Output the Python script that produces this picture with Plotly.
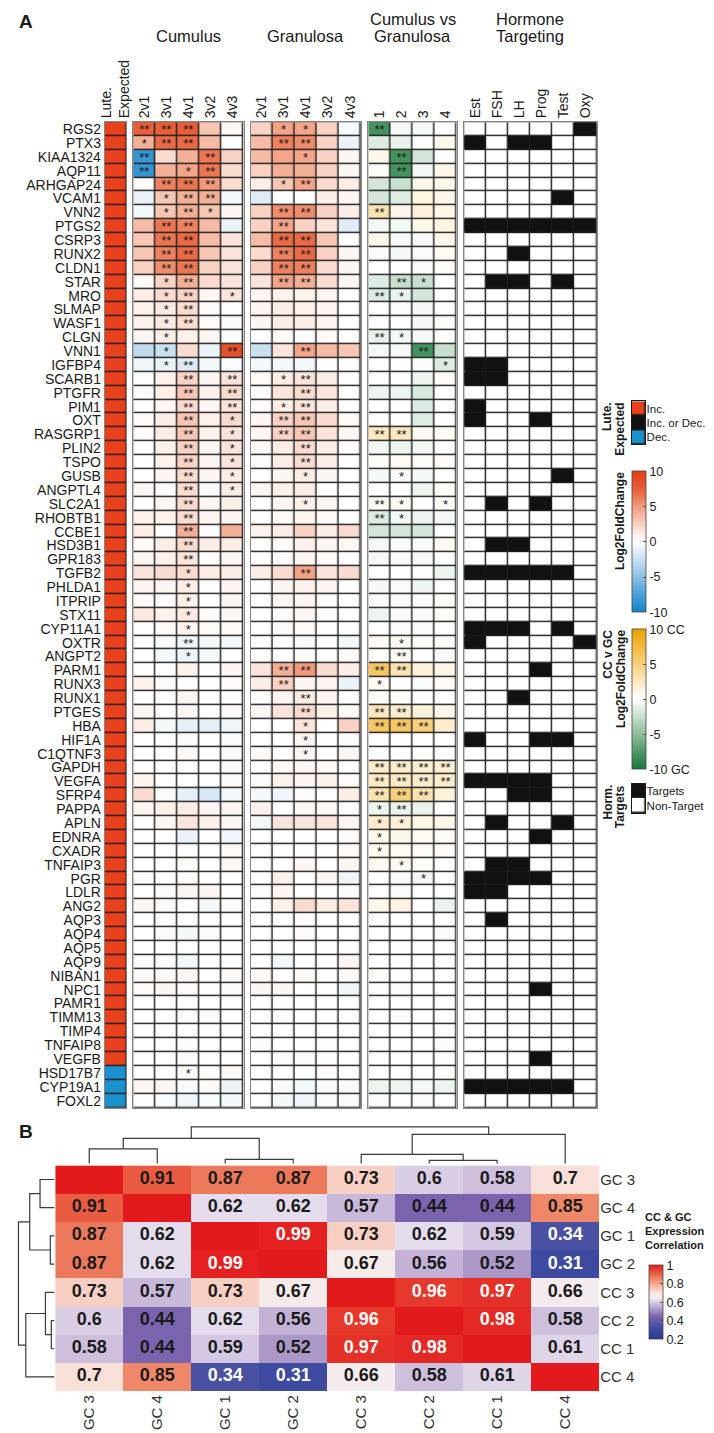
import plotly.graph_objects as go

W, H = 714, 1433
SANS = "Liberation Sans, Arial, sans-serif"
INK = "#1a1a1a"
GRID = "#1e1e1e"
EDGE = "#858585"

# ---------------- Panel A data ----------------
genes = ["RGS2", "PTX3", "KIAA1324", "AQP11", "ARHGAP24", "VCAM1", "VNN2", "PTGS2", "CSRP3", "RUNX2",
         "CLDN1", "STAR", "MRO", "SLMAP", "WASF1", "CLGN", "VNN1", "IGFBP4", "SCARB1", "PTGFR",
         "PIM1", "OXT", "RASGRP1", "PLIN2", "TSPO", "GUSB", "ANGPTL4", "SLC2A1", "RHOBTB1", "CCBE1",
         "HSD3B1", "GPR183", "TGFB2", "PHLDA1", "ITPRIP", "STX11", "CYP11A1", "OXTR", "ANGPT2", "PARM1",
         "RUNX3", "RUNX1", "PTGES", "HBA", "HIF1A", "C1QTNF3", "GAPDH", "VEGFA", "SFRP4", "PAPPA",
         "APLN", "EDNRA", "CXADR", "TNFAIP3", "PGR", "LDLR", "ANG2", "AQP3", "AQP4", "AQP5",
         "AQP9", "NIBAN1", "NPC1", "PAMR1", "TIMM13", "TIMP4", "TNFAIP8", "VEGFB", "HSD17B7", "CYP19A1",
         "FOXL2"]

lute_expected = ["Inc."] * 68 + ["Dec."] * 3
lute_levels = ["Inc.", "Inc. or Dec.", "Dec."]

cum_cols = ["2v1", "3v1", "4v1", "3v2", "4v3"]
gran_cols = ["2v1", "3v1", "4v1", "3v2", "4v3"]
cc_cols = ["1", "2", "3", "4"]
horm_cols = ["Est", "FSH", "LH", "Prog", "Test", "Oxy"]
horm_levels = ["Targets", "Non-Target"]

cum_lfc = [
    [7.5, 7.5, 7.5, 3, 0.5], [4, 7, 7, 3.5, 0], [-8.5, 2, 4, 6.5, 2.5], [-8.5, 4, 4.5, 6.5, 2],
    [0.3, 6, 6.5, 5, 2], [-1, 3, 4, 4, -0.5], [-0.5, 3, 4, 3, 0.5], [3.5, 6.5, 6, 3.5, -1],
    [3, 6.5, 7, 3.5, 1.5], [3, 6, 7, 3, 1.5], [2.5, 5.5, 6.5, 2.5, 1.5], [0.3, 2.5, 4, 2, 1.5],
    [1, 2, 2.5, 0.5, 1.5], [0.8, 1.2, 2, 0.3, 0], [0.8, 1.2, 2, 0.3, 0.3], [0.5, 1, 0.8, 0.5, -0.3],
    [-3, -2.5, 2, -1, 8.5], [-0.8, -1, -1.5, -0.5, -0.3], [0, 0.8, 2.5, 0.5, 1.5], [-0.3, 0.8, 3, 0.8, 2],
    [0, 0.5, 2, 0.5, 1.5], [0.2, 1, 3, 0.8, 2], [0.2, 1, 3, 0.8, 1.5], [0, 0.8, 2.5, 0.5, 1.5],
    [0, 0.8, 2.5, 0.5, 1.5], [0, 0.5, 2, 0.5, 1], [0.5, 0.2, 2, -0.3, 1], [0, 0.5, 2, 0.5, 0.8],
    [0.8, 0.8, 2, 0.5, 0.5], [1, 0, 4, 0.2, 4], [0.2, 1, 2, 1, 1], [0.5, 0.8, 1.5, 0, 0.5],
    [1.5, 2, 2, 1, 1], [0.5, 0.5, 1, 0, 0.5], [0.3, 0.3, 0.8, 0, 0.5], [1.2, 0.8, 1.2, 0.3, 0.5],
    [0, 0.3, 0.5, 0.3, 0.3], [0, -0.3, -0.8, -0.5, -0.5], [0, -0.5, -0.8, -0.5, 0], [0, 0, 0.8, 0, 0.5],
    [0.8, 0.3, 0, 0, 0.3], [0, 0, 0.5, 0, 0], [0.5, 0, 0.5, 0, 0.3], [1, -0.5, -1.2, -1.2, -0.8],
    [0, 0, -0.3, 0, -0.3], [0, 0, 0.3, 0, 0.3], [0, 0, 0, 0, 0.3], [0.5, 0, 0, 0, 0.3],
    [2, -0.3, -1.2, -1.8, -0.5], [0.5, 0.8, 1, 0.5, 0.5], [0, 0.5, 1.5, 0.8, 0.5], [0, 0, -1, 0, -0.8],
    [0, 0, 0, 0, 0.3], [0, 0, 0.3, 0, 0.5], [0.3, 0, 0.3, 0, 0], [0, 0.3, 0.5, 0.5, 0],
    [0.5, 0.3, 0, -0.5, 0.3], [0, -0.2, 0, 0, 0], [0, -0.3, -0.5, -0.3, 0], [0, 0, 0, 0, 0],
    [-0.3, -0.3, -0.5, 0, 0], [0.3, 0.3, 0.5, 0, 0.3], [0.3, 0.5, 0.3, 0, 0.3], [0, 0, 0, 0, 0],
    [0, 0, 0.2, 0.3, 0], [0, 0, 0, 0, 0], [0, 0, -0.3, 0, 0], [0, 0, -0.3, 0, 0],
    [0, 0, 0.2, 0.2, 0.3], [0.5, 0.5, -0.3, 0.3, -1], [0, -0.3, -0.8, -0.3, -0.5],
]
cum_sig = (["22200", "12200", "20020", "20120", "02220", "01220", "01210", "02200", "02200", "02200",
            "02200", "01200", "01201", "01200", "01200", "01000", "01002", "01200", "00202", "00202",
            "00202", "00201", "00201", "00201", "00201", "00201", "00201", "00200", "00200", "00200",
            "00200", "00200", "00100", "00100", "00100", "00100", "00100", "00200", "00100"]
           + ["00000"] * 29 + ["00100", "00000", "00000"])

gran_lfc = [
    [2.5, 4.5, 4.5, 2.5, -0.5], [3.5, 6, 5.5, 2.5, -1], [3.5, 4.5, 4.5, 2.5, 0.5], [2.5, 4, 4, 2.5, 0.5],
    [1, 3, 4.5, 2, 1], [-1.5, 0, 0, 1, 0.5], [2.5, 5.5, 5.5, 2.5, 1], [2.5, 4.5, 2.5, 1.5, -1.5],
    [3.5, 7, 7, 3, 0], [2, 6, 7, 2.5, 0.5], [2.5, 6, 6, 2, 0.5], [1.5, 4.5, 4, 2, 0.5],
    [0.5, 0.8, 0.8, 0.5, 0], [0.5, 1, 0.8, 0.5, 0], [0.5, 1, 1, 0.5, 0], [0, 0.3, -0.3, 0.3, 0],
    [-2.5, 1.5, 4.5, 3.5, 3], [-0.5, -0.5, -0.5, 0, 0], [0.3, 1, 1.5, 1, 0], [0.3, 1.5, 2, 1.5, 0],
    [0.3, 1, 1.5, 1, 0], [0.5, 2.5, 3, 2, 0.3], [0.5, 2.5, 3, 1.5, 0.5], [0.3, 1, 2, 1, 0],
    [0.3, 1, 2, 1, 0], [0, 0.5, 1, 0.5, 0], [0.5, 0.8, 1, 0, 0], [0, 0.5, 0.8, 0.5, 0],
    [0, 0.3, 0.5, 0.3, 0], [0.8, 1, 2.5, 1, 2], [0, 0.3, 0.8, 0.5, 0.5], [0, 0.3, 0.5, 0.3, 0],
    [1, 2, 4.5, 1.5, 2], [0, 0.5, 0.8, 0.5, 0], [0, 0.5, 0.5, 0.3, 0], [0, 0.3, 0.5, 0.3, 0],
    [0, 0.3, 0.3, 0, 0], [0, 0, -0.3, 0, -0.5], [0, 0, 0.3, 0, 0.3], [1.5, 4, 5, 2, 1],
    [1, 2.5, 0.5, 0.5, -1], [0, 0.5, 1, 0.5, 0], [0.5, 1.5, 2, 0.8, 0.3], [0, 0, 1.5, 0, 2.5],
    [0, 0, 0.5, 0, -0.3], [0.3, 0, 0.5, 0, 0.5], [0, 0.3, 0.5, 0.3, 0], [0.3, 0.8, 0.5, 0.8, 0.3],
    [-0.5, -0.8, 0.3, 0, 1], [0.8, 0, 0.5, 0.5, 0], [-0.5, 1.5, 1.5, 1.5, 0.5], [0, 0, 0, 0, 0.3],
    [0, 0, 0, 0, 0.3], [0, 0, 0.5, 0, 0.5], [0, 0.8, 0, 0.5, -0.8], [0.3, 0.5, 0, 0, -0.3],
    [0, 0.8, 2, 1, 1.5], [0, 0, 0.2, 0, 0], [0, 0, 0.3, 0, 0], [0, 0, 0, 0, 0],
    [0, -0.5, 0, 0, 0.5], [0.3, 0, 0.3, 0, 0.3], [0.5, 0.5, 0, 0, -0.8], [0, 0, 0, 0, 0],
    [0, 0.2, 0, 0, 0], [0, 0, 0, 0, 0], [0.2, 0, 0, -0.2, 0], [0, -0.3, -0.3, 0, 0],
    [0, 0, 0, 0.2, 0], [0, -0.3, -0.5, -0.3, -0.3], [0, -0.5, -0.8, -0.3, -0.3],
]
gran_sig = (["01100", "02200", "00100", "00000", "01200", "00000", "02200", "02000", "02200", "02200",
             "02200", "02200", "00000", "00000", "00000", "00000", "00200", "00000", "01200", "00200",
             "01200", "02200", "02200", "00200", "00200", "00100", "00000", "00100", "00000", "00000",
             "00000", "00000", "00200", "00000", "00000", "00000", "00000", "00000", "00000", "02200",
             "02000", "00200", "00200", "00100", "00100", "00100"]
            + ["00000"] * 25)

cc_lfc = [
    [-8, -0.5, -0.5, 0], [-1.5, -1, 0, 0.8], [0.8, -8, -2, 0], [0.3, -8, -0.5, 1],
    [-2, -2.5, 0.8, 0.8], [-2, -1.5, 1.2, 0.8], [3, 0.8, 1.5, 1], [-0.5, -0.5, 1, 1.2],
    [0.8, -0.3, -0.3, 0.8], [-0.3, -0.5, -0.3, 0.5], [0, 0, -0.3, 0.3], [-1.5, -2.5, -2.5, 0],
    [-1.5, -1, -2, 0], [0, -0.3, -0.5, 0], [0, 0, -0.5, 0.3], [-1, -0.5, -0.5, 0],
    [-0.5, -0.5, -8, -2.5], [0, 0, -0.3, -1.5], [0, 0, -0.8, 0.3], [-0.8, -0.8, -1.8, 0],
    [0, 0, -1.5, 0], [0, 0, -1.5, 0], [2.5, 2.5, 0.5, 0.5], [-0.5, -0.8, -0.5, 0],
    [0.3, 0.5, 0.3, 0.3], [-0.5, -0.3, -0.5, 0], [0, 0, -0.8, 0.3], [0.3, 0.5, 0, 0.2],
    [-1.5, -0.5, -0.8, -0.5], [-2, -2, -2, 0], [-0.5, -0.3, -0.3, 0.5], [-0.5, -0.3, -0.5, 0],
    [0, 0, 0.2, -0.8], [-0.5, -0.3, -0.8, 0], [-0.3, -0.3, -0.3, 0.3], [-0.8, -0.3, -0.3, 0.3],
    [0, -0.3, -0.3, 0], [0.5, 0.5, 0.2, 0.2], [0, 0.3, 0, -0.3], [6, 3, 1.5, 1],
    [0.5, 0, -0.3, 0.3], [0.3, 0.3, 0, 0], [2.5, 2, 1.5, 0.8], [6, 6, 5, 2],
    [0, 0, 0, 0], [0, 0, 0, 0], [2, 2, 1.8, 1.8], [2.2, 2.2, 2, 2],
    [3, 5, 3, 1.5], [-0.8, -1, -1, 0], [2, 1.5, 1, 1], [0.8, 0.8, 0.5, 0.3],
    [0.5, 0.5, 0.3, 0.3], [0.5, 0.5, 0.3, 0], [0, -0.3, -0.5, 0], [0, -0.3, 0, 0],
    [0.8, 1.2, 0, -1], [0.2, 0, 0, 0], [0, 0, 0, -0.3], [0, 0, 0, 0],
    [0, 0, 0, -0.2], [0.2, 0, 0, 0], [0, -0.3, 0, 0], [0, 0, 0, 0],
    [0, -0.2, 0, 0], [0, 0, 0, 0], [0, 0, 0, -0.2], [0, 0, 0, 0],
    [0, 0, 0, 0.2], [-0.8, -0.8, -0.5, -0.8], [-0.3, 0, -0.3, 0],
]
cc_sig = (["2000", "0000", "0200", "0200", "0000", "0000", "2000", "0000", "0000", "0000",
           "0000", "0210", "2100", "0000", "0000", "2100", "0020", "0001", "0000", "0000",
           "0000", "0000", "2200", "0000", "0000", "0100", "0000", "2101", "2100", "0000",
           "0000", "0000", "0000", "0000", "0000", "0000", "0000", "0100", "0200", "2200",
           "1000", "0000", "2200", "2220", "0000", "0000", "2222", "2222", "2220", "1200",
           "1100", "1000", "1000", "0100", "0010"]
          + ["0000"] * 16)

horm_target = ["000001", "101100", "000000", "000000", "000000", "000010", "000000", "111111", "000000", "001000",
               "000000", "011010", "000000", "000000", "000000", "000000", "000000", "110000", "110000", "000000",
               "100000", "100100", "000000", "000000", "000000", "000010", "000000", "010100", "000000", "000000",
               "011000", "000000", "111110", "000000", "000000", "000000", "111010", "100001", "000000", "000100",
               "000000", "001000", "000000", "000000", "100110", "000000", "000000", "111100", "001100", "000000",
               "010010", "000100", "000000", "011000", "111100", "110000", "000000", "010000", "000000", "000000",
               "000000", "000000", "000100", "000000", "000000", "000000", "000000", "000100", "000000", "111110",
               "000000"]

# ---------------- Panel B data ----------------
b_labels = ["GC 3", "GC 4", "GC 1", "GC 2", "CC 3", "CC 2", "CC 1", "CC 4"]
b_corr = [
    [1.00, 0.91, 0.87, 0.87, 0.73, 0.60, 0.58, 0.70],
    [0.91, 1.00, 0.62, 0.62, 0.57, 0.44, 0.44, 0.85],
    [0.87, 0.62, 1.00, 0.99, 0.73, 0.62, 0.59, 0.34],
    [0.87, 0.62, 0.99, 1.00, 0.67, 0.56, 0.52, 0.31],
    [0.73, 0.57, 0.73, 0.67, 1.00, 0.96, 0.97, 0.66],
    [0.60, 0.44, 0.62, 0.56, 0.96, 1.00, 0.98, 0.58],
    [0.58, 0.44, 0.59, 0.52, 0.97, 0.98, 1.00, 0.61],
    [0.70, 0.85, 0.34, 0.31, 0.66, 0.58, 0.61, 1.00],
]
# dendrogram merges (indices >= 8 refer to earlier merges), heights
dend_left = [0, 2, 5, 4, 8, 11, 12]
dend_right = [1, 3, 6, 10, 9, 7, 13]
dend_height = [14.5, 4.0, 3.0, 9.0, 25.0, 29.0, 36.5]

# ---------------- colour scales ----------------
LFC_SCALE = [[0.0, "#1385C8"], [0.125, "#4C9FD6"], [0.25, "#8EC0E4"], [0.375, "#C9E0F1"], [0.5, "#FFFFFF"],
             [0.625, "#F9D2C3"], [0.75, "#F1997A"], [0.875, "#E75E38"], [1.0, "#E23D18"]]
CC_SCALE = [[0.0, "#17793D"], [0.125, "#4F9A68"], [0.25, "#8DBE9B"], [0.375, "#C7DFCE"], [0.5, "#FFFFFF"],
            [0.625, "#FDE8C0"], [0.75, "#F8CF7C"], [0.875, "#F1B93E"], [1.0, "#E8A400"]]
B_SCALE = [[0.0, "#2B3990"], [0.14, "#3D4A9F"], [0.3, "#7A64AD"], [0.45, "#C3B2D6"], [0.55, "#EFEAF3"],
           [0.6, "#F8EBE8"], [0.7, "#F6BFAD"], [0.8, "#F08E70"], [0.9, "#E8553A"], [1.0, "#E31A1C"]]
LUTE_SCALE = [[0, "#1B91D0"], [0.3333, "#1B91D0"], [0.3333, "#111111"], [0.6667, "#111111"],
              [0.6667, "#E8411B"], [1, "#E8411B"]]
HORM_SCALE = [[0, "#FFFFFF"], [0.5, "#FFFFFF"], [0.5, "#111111"], [1, "#111111"]]
LUTE_CODE = {"Inc.": 1, "Inc. or Dec.": 0, "Dec.": -1}
STAR = {"0": "", "1": "*", "2": "**"}

# ---------------- geometry (pixels) ----------------
ROW_TOP, ROW_BOT = 113.3, 1100.2
LUTE_X = (91.5, 113.5)
CUM_X = (120.5, 233.0)
GRAN_X = (240.0, 352.5)
CC_X = (360.0, 450.0)
HORM_X = (457.5, 592.5)
LEG_X = (628.0, 642.0)
B_X = (41.0, 595.0)
B_Y = (1158.0, 1384.0)


def xdom(a, b):
    return [a / W, b / W]


def ydom(top, bottom):
    return [1 - bottom / H, 1 - top / H]


def px(x):
    return x / W


def py(y):
    return 1 - y / H


def ax(n, k):
    return k if n == 1 else f"{k}{n}"


def axkey(n, k):
    return f"{k}axis" if n == 1 else f"{k}axis{n}"


fig = go.Figure()
layout = {}


def grid_heatmap(n, z, xcats, ycats, gap=1.4, coloraxis=None, colorscale=None, zmin=None, zmax=None, stars=None):
    xa, ya = ax(n, "x"), ax(n, "y")
    fig.add_trace(go.Heatmap(z=[[0] * len(xcats) for _ in ycats], x=xcats, y=ycats,
                             colorscale=[[0, GRID], [1, GRID]], showscale=False,
                             hoverinfo="skip", xaxis=xa, yaxis=ya))
    kw = dict(z=z, x=xcats, y=ycats, xgap=gap, ygap=gap, xaxis=xa, yaxis=ya, hoverinfo="skip")
    if coloraxis:
        kw["coloraxis"] = coloraxis
    else:
        kw.update(colorscale=colorscale, zmin=zmin, zmax=zmax, showscale=False)
    if stars is not None:
        kw.update(text=[[STAR[c] for c in row] for row in stars], texttemplate="%{text}",
                  textfont=dict(size=13, color=INK, family=SANS))
    fig.add_trace(go.Heatmap(**kw))


def block_axes(n, xr, xcats, show_genes=False):
    layout[axkey(n, "x")] = dict(domain=xdom(*xr), anchor=ax(n, "y"), side="top", tickangle=-90, ticks="",
                                 tickmode="array", tickvals=xcats, ticktext=xcats,
                                 showline=True, mirror=True, linecolor=EDGE, linewidth=1.2, showgrid=False,
                                 zeroline=False, type="category", tickfont=dict(size=14, family=SANS, color=INK))
    layout[axkey(n, "y")] = dict(domain=ydom(ROW_TOP, ROW_BOT), anchor=ax(n, "x"), autorange="reversed",
                                 ticks="", showticklabels=show_genes, tickmode="array", tickvals=genes,
                                 ticktext=genes, showline=True, mirror=True, linecolor=EDGE,
                                 linewidth=1.2, showgrid=False, zeroline=False, type="category",
                                 tickfont=dict(size=14, family=SANS, color=INK))


# Panel A blocks
lute_x = ["Lute.<br>Expected"]
grid_heatmap(1, [[LUTE_CODE[v]] for v in lute_expected], lute_x, genes,
             colorscale=LUTE_SCALE, zmin=-1, zmax=1)
block_axes(1, LUTE_X, lute_x, show_genes=True)
grid_heatmap(2, cum_lfc, cum_cols, genes, coloraxis="coloraxis", stars=cum_sig)
block_axes(2, CUM_X, cum_cols)
grid_heatmap(3, gran_lfc, gran_cols, genes, coloraxis="coloraxis", stars=gran_sig)
block_axes(3, GRAN_X, gran_cols)
grid_heatmap(4, cc_lfc, cc_cols, genes, coloraxis="coloraxis2", stars=cc_sig)
block_axes(4, CC_X, cc_cols)
grid_heatmap(5, [[int(c) for c in row] for row in horm_target], horm_cols, genes,
             colorscale=HORM_SCALE, zmin=0, zmax=1)
block_axes(5, HORM_X, horm_cols)


# Legend keys (discrete)
def legend_axes(n, top, bottom, levels):
    layout[axkey(n, "x")] = dict(domain=xdom(*LEG_X), anchor=ax(n, "y"), showticklabels=False, ticks="",
                                 showline=True, mirror=True, linecolor=INK, linewidth=1, showgrid=False,
                                 zeroline=False, type="category")
    layout[axkey(n, "y")] = dict(domain=ydom(top, bottom), anchor=ax(n, "x"), side="right",
                                 autorange="reversed", ticks="", tickmode="array", tickvals=levels,
                                 ticktext=levels, ticklabelstandoff=-2, showline=True, mirror=True,
                                 linecolor=INK, linewidth=1, showgrid=False, zeroline=False, type="category",
                                 tickfont=dict(size=11.5, family=SANS, color=INK))


grid_heatmap(6, [[LUTE_CODE[v]] for v in lute_levels], ["key"], lute_levels, colorscale=LUTE_SCALE,
             zmin=-1, zmax=1)
legend_axes(6, 393, 436, lute_levels)
grid_heatmap(7, [[1], [0]], ["key"], horm_levels, colorscale=HORM_SCALE, zmin=0, zmax=1)
legend_axes(7, 776, 805, horm_levels)

# Panel B heatmap
fig.add_trace(go.Heatmap(z=b_corr, x=b_labels, y=b_labels, coloraxis="coloraxis3", hoverinfo="skip",
                         xaxis="x8", yaxis="y8"))
tx, ty, tt, tc = [], [], [], []
for i, r in enumerate(b_labels):
    for j, c in enumerate(b_labels):
        if i == j:
            continue
        v = b_corr[i][j]
        tx.append(c)
        ty.append(r)
        tt.append(f"{v:g}")
        tc.append("#FFFFFF" if (v >= 0.95 or v <= 0.35) else INK)
fig.add_trace(go.Scatter(x=tx, y=ty, mode="text", text=tt, hoverinfo="skip",
                         textfont=dict(size=18, color=tc, family=SANS, weight="bold"),
                         xaxis="x8", yaxis="y8"))
layout["xaxis8"] = dict(domain=xdom(*B_X), anchor="y8", side="bottom", tickangle=-90, ticks="",
                        showgrid=False, zeroline=False, showline=False, type="category",
                        categoryorder="array", categoryarray=b_labels,
                        tickfont=dict(size=15, family=SANS, color="#333"))
layout["yaxis8"] = dict(domain=ydom(*B_Y), anchor="x8", side="right", autorange="reversed", ticks="",
                        showgrid=False, zeroline=False, showline=False, type="category",
                        categoryorder="array", categoryarray=b_labels,
                        tickfont=dict(size=15, family=SANS, color="#333"))

# Dendrograms
pos = {i: float(i) for i in range(len(b_labels))}
hgt = {i: 0.0 for i in range(len(b_labels))}
dx, dy = [], []
for k, (a, b, h) in enumerate(zip(dend_left, dend_right, dend_height)):
    node = len(b_labels) + k
    dx += [pos[a], pos[a], pos[b], pos[b], None]
    dy += [hgt[a], h, h, hgt[b], None]
    pos[node] = (pos[a] + pos[b]) / 2
    hgt[node] = h
line = dict(color="#3a3a3a", width=1.2)
fig.add_trace(go.Scatter(x=dx, y=dy, mode="lines", line=line, hoverinfo="skip", xaxis="x9", yaxis="y9"))
fig.add_trace(go.Scatter(x=dy, y=dx, mode="lines", line=line, hoverinfo="skip", xaxis="x10", yaxis="y10"))
layout["xaxis9"] = dict(domain=xdom(*B_X), anchor="y9", range=[-0.5, len(b_labels) - 0.5], visible=False)
layout["yaxis9"] = dict(domain=ydom(B_Y[0] - 42, B_Y[0]), anchor="x9", range=[-2, 40], visible=False)
layout["xaxis10"] = dict(domain=xdom(0, 41), anchor="y10", range=[40, -1], visible=False)
layout["yaxis10"] = dict(domain=ydom(*B_Y), anchor="x10", range=[len(b_labels) - 0.5, -0.5], visible=False)


# Colour bars
def cbar(x0, top, length, tickvals, ticktext):
    return dict(x=px(x0), xanchor="left", y=py(top), yanchor="top", len=length, lenmode="pixels",
                thickness=14, thicknessmode="pixels", xpad=0, ypad=0, outlinewidth=0.8, outlinecolor="#444",
                tickvals=tickvals, ticktext=ticktext, ticks="inside", ticklen=3, tickcolor="#555",
                tickfont=dict(size=12.5, family=SANS, color=INK))


layout["coloraxis"] = dict(cmin=-10, cmax=10, colorscale=LFC_SCALE,
                           colorbar=cbar(LEG_X[0], 463, 141, [-10, -5, 0, 5, 10], ["-10", "-5", "0", "5", "10"]))
layout["coloraxis2"] = dict(cmin=-10, cmax=10, colorscale=CC_SCALE,
                            colorbar=cbar(LEG_X[0], 621, 140, [-10, -5, 0, 5, 10],
                                          ["-10 GC", "-5", "0", "5", "10 CC"]))
layout["coloraxis3"] = dict(cmin=0.2, cmax=1, colorscale=B_SCALE,
                            colorbar=cbar(646, 1258, 74, [0.2, 0.4, 0.6, 0.8, 1.0],
                                          ["0.2", "0.4", "0.6", "0.8", "1"]))

# Annotations
ann = []


def note(text, x, y, xa="center", ya="middle", size=16, bold=False, angle=0, align="center", color=INK):
    ann.append(dict(text=f"<b>{text}</b>" if bold else text, x=px(x), y=py(y), xref="paper", yref="paper",
                    xanchor=xa, yanchor=ya, showarrow=False, textangle=angle, align=align, borderpad=0,
                    font=dict(size=size, family=SANS, color=color)))


note("A", 3, 13, xa="left", size=19, bold=True)
note("B", 3, 1124, xa="left", size=19, bold=True)
note("Cumulus", sum(CUM_X) / 2, 27, size=16.5)
note("Granulosa", sum(GRAN_X) / 2, 27, size=16.5)
note("Cumulus vs", sum(CC_X) / 2, 10, size=16.5)
note("Granulosa", sum(CC_X) / 2, 27, size=16.5)
note("Hormone", sum(HORM_X) / 2, 10, size=16.5)
note("Targeting", sum(HORM_X) / 2, 27, size=16.5)
# legend titles (rotated, top-aligned)
note("Lute.", 603, 393, ya="top", size=12, bold=True, angle=-90)
note("Expected", 616, 393, ya="top", size=12, bold=True, angle=-90)
note("Log2FoldChange", 617, 463, ya="top", size=12, bold=True, angle=-90)
note("CC v GC", 604, 621, ya="top", size=12, bold=True, angle=-90)
note("Log2FoldChange", 617, 621, ya="top", size=12, bold=True, angle=-90)
note("Horm.", 604, 776, ya="top", size=12, bold=True, angle=-90)
note("Targets", 617, 776, ya="top", size=12, bold=True, angle=-90)
note("CC & GC", 641, 1210, xa="left", size=11, bold=True)
note("Expression", 641, 1224, xa="left", size=11, bold=True)
note("Correlation", 641, 1238, xa="left", size=11, bold=True)

layout.update(width=W, height=H, margin=dict(l=0, r=0, t=0, b=0), paper_bgcolor="white",
              plot_bgcolor="white", showlegend=False, hovermode=False,
              font=dict(family=SANS, color=INK), annotations=ann)
fig.update_layout(**layout)
fig.write_html("out.html", config={"displayModeBar": False})
